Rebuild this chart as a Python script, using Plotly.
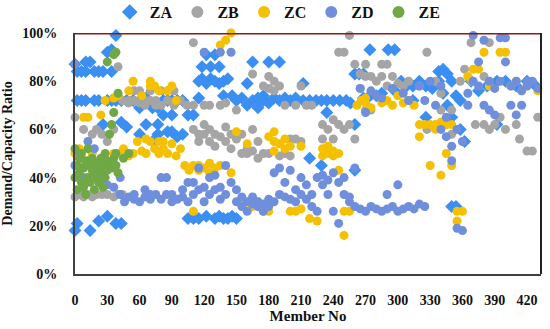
import plotly.graph_objects as go

# (member no, demand/capacity ratio %)
ZA = [(0,87),(0,18),(2,84),(2,72),(2,21),(6,84),(6,72),(10,88),(10,84),(10,72),(14,88),(14,18),
      (18,84),(18,72),(22,72),(22,22),(22,84),(26,84),(26,62),(30,92),(30,72),(30,24),(34,93),(34,84),
      (34,72),(38,99),(38,72),(38,21),(43,72),(43,63),(43,21),(48,72),(48,61),(54,72),(60,72),(60,69),
      (60,58),(66,73),(66,62),(72,69),(72,55),(77,69),(77,62),(77,58),(82,72),(82,66),(86,59),(86,72),
      (90,59),(90,72),(90,66),(95,72),(95,57),(100,72),(100,58),(105,66),(105,23),(110,66),(110,23),
      (115,80),(115,73),(115,23),(118,81),(118,86),(122,79),(122,91),(122,24),(126,86),(126,81),
      (130,91),(130,80),(130,23),(134,86),(134,79),(134,24),(138,80),(138,74),(138,23),(142,81),(142,23),
      (146,74),(146,24),(150,72),(150,23),(155,73),(160,70),(160,79),(165,88),(165,72),(170,73),(170,69),
      (175,72),(175,74),(180,88),(180,71),(185,73),(190,88),(190,72),(195,73),(200,72),(205,73),
      (212,79),(212,72),(218,72),(218,48),(224,72),(229,72),(229,45),(234,67),(234,72),(240,72),
      (246,72),(252,72),(256,71),(260,83),(260,62),(260,43),(264,83),(268,83),(268,73),(274,93),
      (274,74),(280,74),(285,75),(291,93),(297,93),(297,76),(303,80),(308,78),(314,78),(314,72),
      (320,80),(326,78),(326,65),(332,77),(338,84),(338,80),(342,85),(342,75),(346,83),(346,70),
      (350,80),(350,65),(350,28),(354,74),(354,28),(358,72),(358,60),(362,55),(368,80),(375,76),
      (383,78),(392,62),(392,80),(400,80),(410,78),(420,80),(428,78)]

ZB = [(0,65),(0,32),(4,33),(8,32),(8,60),(12,33),(16,58),(16,32),(20,60),(20,33),(25,33),(25,58),
      (30,33),(30,55),(36,32),(36,60),(40,86),(40,33),(44,72),(44,33),(50,71),(50,72),(55,72),(55,76),
      (60,71),(60,76),(65,72),(65,70),(70,72),(70,76),(75,70),(75,72),(80,76),(80,70),(86,76),(86,72),
      (92,76),(92,70),(98,72),(104,70),(110,96),(110,60),(110,70),(115,58),(115,55),(120,58),(120,70),
      (120,62),(125,55),(125,60),(125,70),(130,58),(130,53),(135,57),(135,70),(140,55),(140,61),
      (140,71),(145,52),(145,58),(150,56),(150,68),(155,50),(155,58),(160,52),(160,50),(165,83),
      (165,51),(165,60),(170,48),(170,55),(175,50),(175,78),(180,82),(180,77),(180,50),(185,80),
      (185,76),(190,78),(190,49),(195,50),(195,70),(200,49),(200,56),(205,56),(205,70),(210,78),
      (210,55),(215,70),(220,70),(230,62),(230,56),(235,60),(240,64),(240,56),(245,92),(245,62),
      (250,92),(250,60),(255,99),(255,62),(260,87),(260,56),(265,83),(265,77),(270,87),(270,68),
      (270,82),(275,82),(275,68),(280,80),(285,87),(285,82),(290,87),(290,78),(295,82),(300,79),
      (305,78),(310,80),(320,78),(327,92),(327,60),(335,80),(340,75),(340,68),(345,62),(350,68),
      (350,58),(358,80),(362,85),(368,96),(368,80),(372,62),(380,62),(380,82),(385,60),(385,96),
      (390,62),(395,65),(400,60),(410,62),(413,56),(420,51),(425,51),(430,65)]

ZC = [(0,50),(4,49),(4,52),(8,65),(8,45),(12,65),(12,47),(16,44),(16,50),(20,45),(24,66),(24,43),
      (28,72),(28,44),(32,46),(36,73),(36,50),(40,74),(40,50),(45,50),(45,52),(50,76),(50,49),(54,80),
      (54,50),(58,55),(62,51),(62,74),(66,56),(66,50),(70,80),(70,78),(70,55),(74,78),(74,52),(78,76),
      (78,55),(78,50),(82,52),(82,55),(86,50),(86,76),(90,54),(90,78),(94,49),(94,72),(98,52),(102,45),
      (106,43),(110,45),(110,26),(115,43),(115,45),(120,44),(125,46),(125,42),(130,44),(135,45),
      (135,95),(140,97),(145,100),(145,42),(150,59),(155,30),(160,30),(160,54),(165,28),(170,30),
      (175,28),(175,26),(180,26),(180,57),(185,55),(185,59),(185,51),(190,54),(195,52),(195,56),
      (200,53),(200,26),(205,26),(210,27),(210,53),(218,23),(225,22),(230,49),(230,52),(235,50),
      (235,53),(240,49),(240,51),(245,50),(245,43),(250,26),(250,16),(255,26),(262,70),(266,72),
      (270,71),(270,73),(275,69),(285,71),(290,72),(295,70),(300,74),(305,71),(310,72),(315,70),
      (320,57),(320,62),(325,62),(330,62),(330,45),(335,62),(335,60),(340,63),(340,41),(345,62),
      (345,50),(350,62),(350,45),(355,26),(355,22),(360,26),(365,82),(370,85),(375,85),(380,92),
      (385,78),(395,92),(400,92),(405,78),(410,80),(415,76),(420,78),(430,76)]

ZD = [(0,87),(0,45),(4,50),(8,40),(12,55),(18,52),(24,38),(24,45),(30,37),(36,36),(42,33),(42,40),
      (46,30),(50,32),(55,31),(55,33),(60,30),(65,32),(65,35),(70,31),(70,33),(75,33),(80,40),(80,31),
      (85,40),(85,33),(90,33),(90,30),(95,31),(100,35),(100,32),(105,38),(105,30),(110,38),(110,33),
      (115,44),(115,35),(120,92),(120,36),(120,30),(125,40),(125,33),(130,41),(130,35),(135,92),
      (135,36),(135,31),(140,45),(140,33),(145,92),(145,38),(150,35),(150,30),(155,28),(155,32),
      (160,30),(160,26),(165,32),(165,29),(170,30),(170,28),(175,29),(175,26),(180,28),(180,31),
      (185,42),(185,30),(190,44),(190,33),(195,38),(195,32),(200,43),(200,31),(205,35),(205,30),
      (210,40),(210,33),(215,37),(215,31),(220,33),(220,28),(225,40),(225,26),(230,41),(230,37),
      (235,39),(235,33),(240,42),(240,26),(245,38),(245,21),(250,33),(250,40),(255,32),(255,30),
      (260,28),(260,44),(265,27),(265,77),(270,26),(270,67),(275,28),(275,76),(280,27),(280,74),
      (285,26),(285,73),(290,27),(290,33),(295,28),(295,77),(300,26),(300,37),(305,27),(305,75),
      (310,28),(310,72),(315,27),(320,29),(320,78),(325,28),(325,72),(330,80),(335,70),(340,78),
      (340,60),(345,65),(345,57),(350,53),(350,47),(355,60),(355,19),(360,55),(360,18),(365,75),
      (365,70),(370,99),(370,80),(375,78),(375,88),(380,97),(380,70),(385,80),(385,68),(390,77),
      (390,66),(395,98),(395,80),(400,98),(400,88),(405,78),(405,70),(410,80),(410,66),(415,76),
      (415,70),(420,78),(420,80),(425,80),(430,77)]

ZE = [(0,40),(0,52),(2,45),(2,35),(4,42),(4,48),(6,38),(6,50),(8,44),(8,36),(10,47),(10,33),
      (12,40),(12,52),(14,45),(14,38),(16,43),(16,48),(18,35),(18,42),(20,46),(20,40),(22,38),(22,44),
      (24,42),(24,48),(26,45),(26,36),(28,40),(28,50),(30,88),(30,43),(30,47),(32,58),(32,45),(34,62),
      (34,44),(36,91),(36,67),(36,48),(38,92),(38,50),(38,45),(40,75),(40,42),(45,48),(50,50)]

x_ticks = list(range(0, 421, 30))
y_ticks = [0, 20, 40, 60, 80, 100]

series = [
    ("ZA", ZA, "#3b8ff2", "diamond", 10),
    ("ZB", ZB, "#a5a5a5", "circle", 9),
    ("ZC", ZC, "#f5c000", "circle", 9),
    ("ZD", ZD, "#6f8fdc", "circle", 9),
    ("ZE", ZE, "#70a845", "circle", 9),
]

FF = "Liberation Serif"

fig = go.Figure()
for name, pts, color, symbol, size in series:
    xs = [p[0] for p in pts]
    ys = [p[1] for p in pts]
    fig.add_trace(go.Scatter(
        x=xs, y=ys, mode="markers", name=name, cliponaxis=False,
        marker=dict(color=color, symbol=symbol, size=size, line=dict(width=0)),
    ))

# 100% limit line (top) and right border
fig.add_shape(type="line", xref="paper", yref="y", x0=0, x1=1, y0=100, y1=100,
              line=dict(color="#8b1a10", width=3))
fig.add_shape(type="line", xref="paper", yref="paper", x0=1, x1=1, y0=0, y1=1,
              line=dict(color="#222222", width=2))

fig.update_layout(
    width=550, height=329,
    margin=dict(l=75, r=9, t=33, b=55, autoexpand=False),
    paper_bgcolor="white", plot_bgcolor="white",
    font=dict(family=FF, size=13, color="#111111"),
    showlegend=True,
    legend=dict(orientation="h", x=0.435, xanchor="center", y=1.087, yanchor="middle",
                font=dict(family=FF, size=16, color="#111111", weight="bold"),
                itemsizing="constant", bgcolor="rgba(0,0,0,0)",
                itemwidth=30, tracegroupgap=0),
)
fig.update_xaxes(
    range=[0, 433], tickvals=x_ticks, ticktext=[f"<b>{v}</b>" for v in x_ticks],
    showgrid=False, zeroline=False, showline=True, linecolor="#404040", linewidth=2,
    ticks="outside", ticklen=12, tickcolor="rgba(0,0,0,0)",
    tickfont=dict(family=FF, size=14, color="#111111"),
    title=dict(text="<b>Member No</b>", font=dict(family=FF, size=15, color="#111111"),
               standoff=4),
)
fig.update_yaxes(
    range=[0, 100], tickvals=y_ticks, ticktext=[f"<b>{v}%</b>" for v in y_ticks],
    showgrid=False, zeroline=False, showline=True, linecolor="#404040", linewidth=2,
    ticks="outside", ticklen=13, tickcolor="rgba(0,0,0,0)",
    tickfont=dict(family=FF, size=14, color="#111111"),
    title=dict(text="<b>Demand/Capacity Ratio</b>", font=dict(family=FF, size=14, color="#111111"),
               standoff=10),
)

fig.write_html("out.html", config={"displayModeBar": False},
               post_script="document.body.style.margin='0';")
